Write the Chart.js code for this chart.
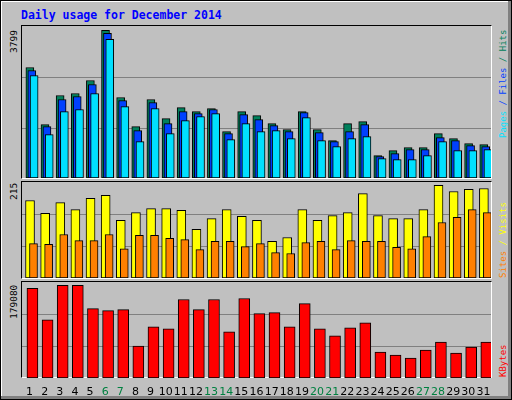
<!DOCTYPE html>
<html><head><meta charset="utf-8">
<script src="https://cdn.jsdelivr.net/npm/chart.js@4"></script>
<style>
body{margin:0;background:#fff}
#wrap{position:absolute;left:0;top:0;width:510px;height:398px;background:#C0C0C0;border:1px solid #000;box-shadow:inset -3px -3px 0 #808080, inset 1px 1px 0 #fff;overflow:hidden}
.panel{position:absolute;left:20px;width:469px;border-left:1px solid #000;border-top:1px solid #000;border-right:1px solid #fff;border-bottom:1px solid #fff}
canvas{position:absolute}
.t{position:absolute;white-space:nowrap;font-family:"DejaVu Sans Mono",monospace}
.rot{position:absolute;white-space:nowrap;transform:rotate(-90deg);transform-origin:left top;font-family:"DejaVu Sans Mono",monospace;line-height:12px}
</style></head><body>
<div id="wrap">
<div class="t" style="left:20px;top:7px;color:#0000FF;font-weight:bold;font-size:11.5px">Daily usage for December 2014</div>
<div class="panel" style="top:24px;height:152px"></div>
<div class="panel" style="top:180px;height:96px"></div>
<div class="panel" style="top:280px;height:95px"></div>
<canvas id="c1" style="left:21px;top:25px;width:469px;height:152px"></canvas>
<canvas id="c2" style="left:21px;top:181px;width:469px;height:96px"></canvas>
<canvas id="c3" style="left:21px;top:281px;width:469px;height:118px"></canvas>
<div class="rot" style="left:7px;top:52px;font-size:9.5px">3799</div>
<div class="rot" style="left:7px;top:199px;font-size:9.5px">215</div>
<div class="rot" style="left:7px;top:318px;font-size:9.5px">179080</div>
<div class="rot" style="left:496px;top:137px;font-size:9px"><span style="color:#00E0FF">Pages</span><span style="color:#0040FF"> / Files</span><span style="color:#00805C"> / Hits</span></div>
<div class="rot" style="left:496px;top:277px;font-size:9px"><span style="color:#FF8000">Sites</span><span style="color:#FFFF00"> / Visits</span></div>
<div class="rot" style="left:496px;top:376px;font-size:9px;color:#FF0000">KBytes</div>
</div>
<script>
const days=[1,2,3,4,5,6,7,8,9,10,11,12,13,14,15,16,17,18,19,20,21,22,23,24,25,26,27,28,29,30,31];
const weekend=[6,7,13,14,20,21,27,28];
const hits=[2843,1374,2122,2173,2508,3799,2070,1323,2019,1529,1812,1709,1787,1194,1709,1606,1400,1246,1709,1246,962,1400,1452,576,704,782,782,1142,1014,885,859];
const files=[2766,1323,2019,2096,2405,3719,1993,1220,1941,1400,1709,1658,1761,1142,1632,1503,1349,1194,1684,1168,936,1194,1374,550,627,730,730,1039,962,833,807];
const pages=[2637,1117,1709,1761,2173,3565,1838,936,1787,1142,1477,1581,1658,988,1400,1194,1220,1014,1555,962,807,1014,1065,498,472,472,576,936,704,704,730];
const visits=[180,150,175,159,185,192,134,152,161,161,157,113,138,159,143,134,85,94,159,134,145,152,196,145,138,138,159,215,201,206,208];
const sites=[80,78,101,87,87,101,68,99,99,92,89,66,85,85,73,80,59,57,82,85,66,87,85,85,71,68,96,129,141,159,152];
const kbytes=[173219,112658,179080,179080,134147,130240,132194,61864,98982,95075,151730,132194,151730,89214,153683,124379,126333,98982,143915,95075,81400,97029,106797,50142,44282,38421,54050,69678,48189,59910,69678];

function ds(vals,off,color,w,ord){
  return {data:days.map((d,i)=>({x:d+off,y:vals[i]})),backgroundColor:color,borderColor:'#000',borderWidth:1,barThickness:w,grouped:false,borderSkipped:false,order:ord};
}
function opts(max,withX){
  const x={type:'linear',min:0.5,max:31.5,display:!!withX,offset:false,
         grid:{display:false},border:{display:false},
         afterBuildTicks:s=>{s.ticks=days.map(v=>({value:v}));},
         ticks:{autoSkip:false,maxRotation:0,padding:0,font:{family:'DejaVu Sans',size:11},
           color:c=>weekend.includes(c.tick.value)?'#008040':'#000'}};
  if(withX) x.afterFit=s=>{s.height=22;};
  return {responsive:false,animation:false,devicePixelRatio:1,
    layout:{padding:0},
    plugins:{legend:{display:false},tooltip:{enabled:false}},
    scales:{
      x:x,
      y:{min:0,max:max,display:true,
         afterBuildTicks:s=>{s.ticks=[{value:max*0.325},{value:max*0.66}];},
         ticks:{display:false},border:{display:false},
         grid:{color:'#808080',lineWidth:1,drawTicks:false},
         afterFit:s=>{s.width=0;}}
    }};
}
function mk(id,w,h){const c=document.getElementById(id);c.width=w;c.height=h;return c;}
new Chart(mk('c1',469,152),{type:'bar',data:{datasets:[
  ds(hits,0.02,'#00805C',8,3),ds(files,0.15,'#0040FF',8,2),ds(pages,0.3,'#00E0FF',8,1)]},options:opts(3910)});
new Chart(mk('c2',469,96),{type:'bar',data:{datasets:[
  ds(visits,0.03,'#FFFF00',9,2),ds(sites,0.26,'#FF8000',8,1)]},options:opts(223)});
new Chart(mk('c3',469,118),{type:'bar',data:{datasets:[
  ds(kbytes,0.19,'#FF0000',11,1)]},options:opts(185600,true)});
</script></body></html>
